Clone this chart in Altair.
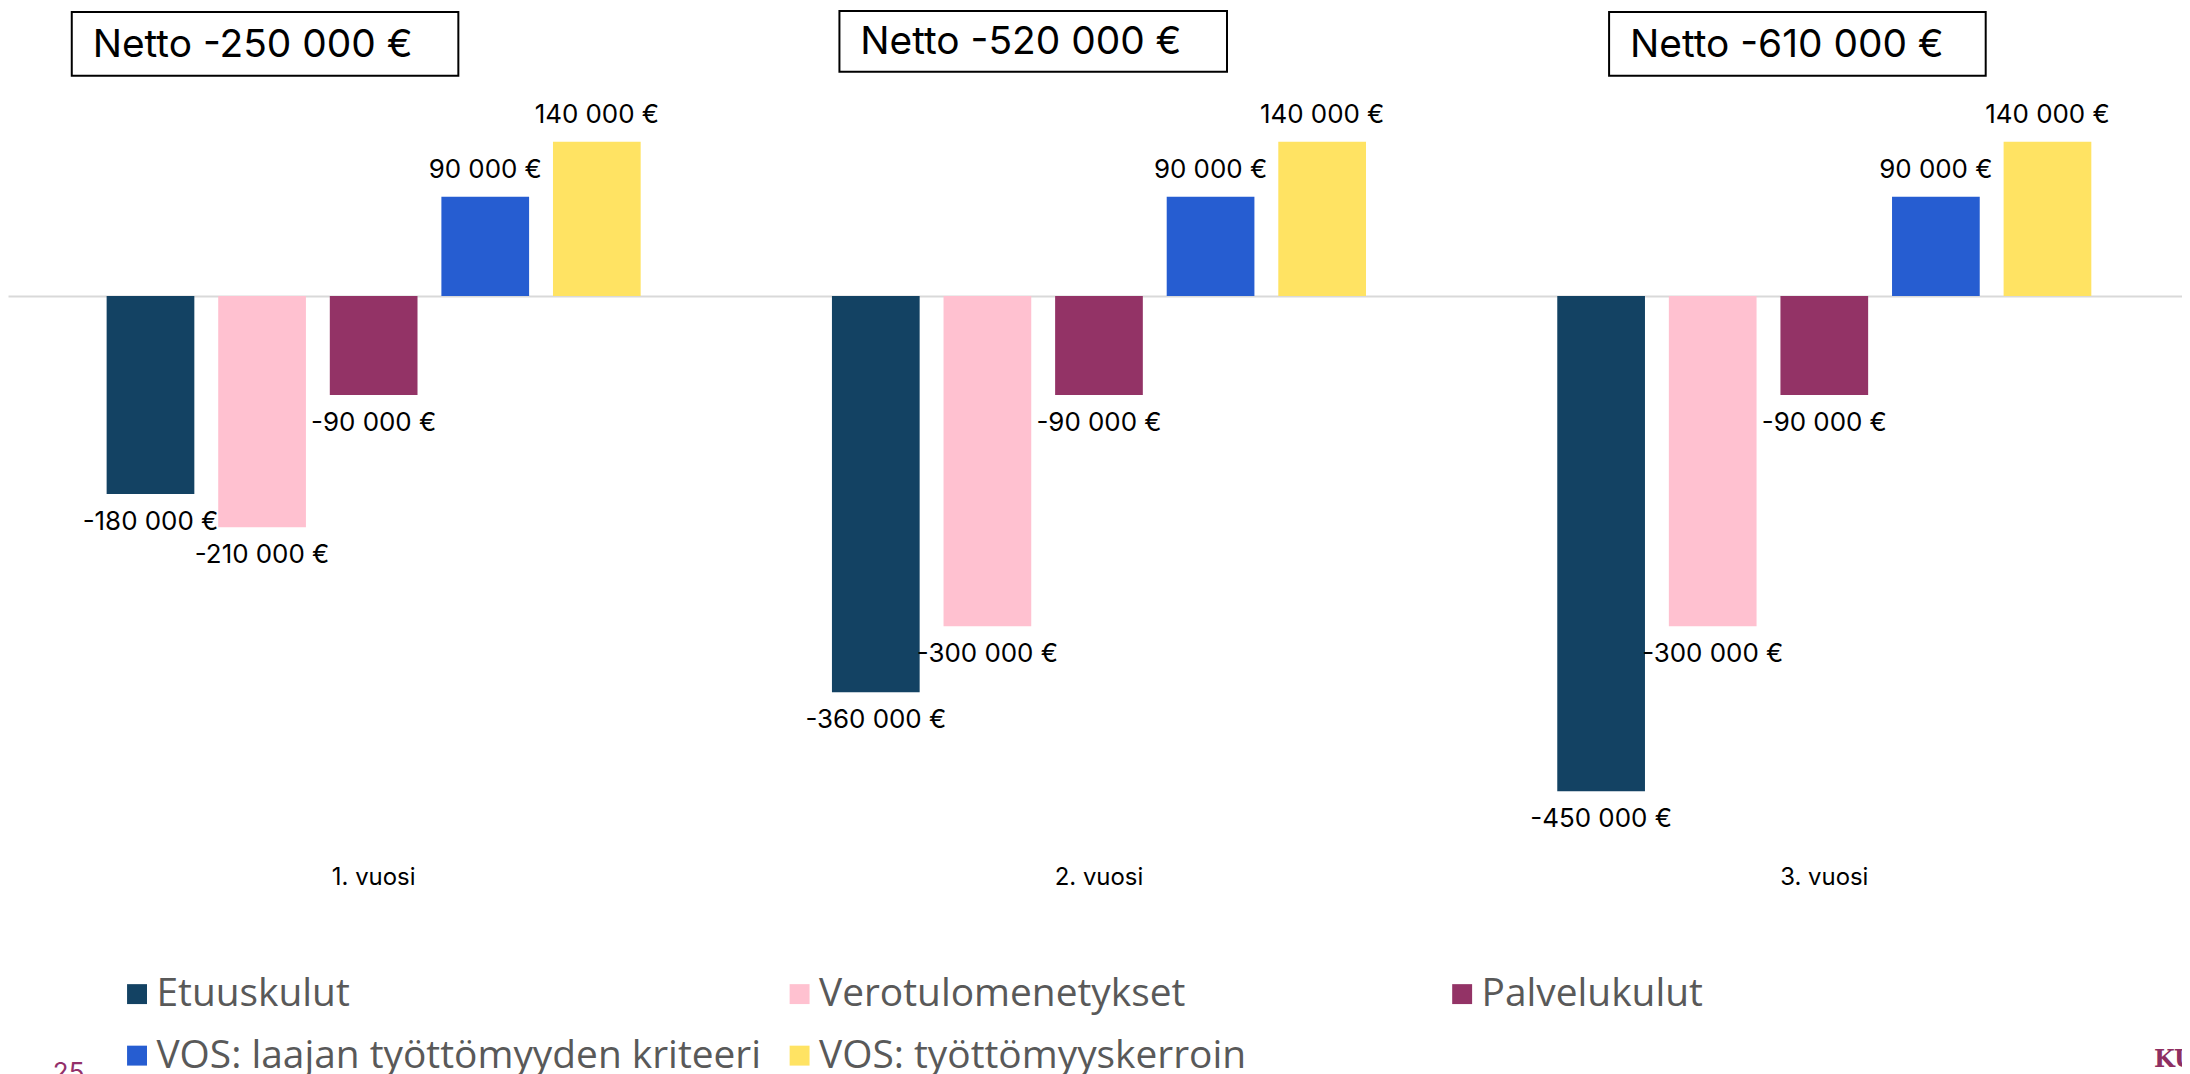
import altair as alt
import pandas as pd

# ---- data ----
years = ["1. vuosi", "2. vuosi", "3. vuosi"]
categories = [
    "Etuuskulut",
    "Verotulomenetykset",
    "Palvelukulut",
    "VOS: laajan työttömyyden kriteeri",
    "VOS: työttömyyskerroin",
]
etuuskulut = [-180000, -360000, -450000]
verotulomenetykset = [-210000, -300000, -300000]
palvelukulut = [-90000, -90000, -90000]
vos_laaja = [90000, 90000, 90000]
vos_kerroin = [140000, 140000, 140000]
netto = [-250000, -520000, -610000]

colors = ["#134263", "#FFC1D0", "#933366", "#265DD1", "#FFE363"]


def fmt(v):
    return f"{v:,}".replace(",", " ") + " €"


series = [etuuskulut, verotulomenetykset, palvelukulut, vos_laaja, vos_kerroin]
rows = []
for i, yr in enumerate(years):
    for cat, vals in zip(categories, series):
        rows.append({
            "vuosi": yr,
            "kategoria": cat,
            "arvo": vals[i],
            "teksti": fmt(vals[i]),
            "netto_teksti": "Netto " + fmt(netto[i]),
        })
df = pd.DataFrame(rows)

W, H = 2182, 850

xscale = alt.Scale(domain=years, paddingInner=0.2637, paddingOuter=0.1305, align=0.521)
xoff_scale = alt.Scale(domain=categories, paddingInner=0.214, paddingOuter=0)
yscale = alt.Scale(domain=[-509500, 259730], nice=False, zero=False)
cscale = alt.Scale(domain=categories, range=colors)

X = alt.X(
    "vuosi:N",
    scale=xscale,
    title=None,
    axis=alt.Axis(
        labelAngle=0,
        labelFont="Inter",
        labelFontSize=24,
        labelColor="#000000",
        labelPadding=9,
        ticks=False,
        tickSize=0,
        domain=False,
        grid=False,
    ),
)
XO = alt.XOffset("kategoria:N", scale=xoff_scale)
Y = alt.Y(
    "arvo:Q",
    scale=yscale,
    stack=None,
    title=None,
    axis=alt.Axis(
        values=[0],
        grid=True,
        gridColor="#d9d9d9",
        gridWidth=2,
        labels=False,
        ticks=False,
        domain=False,
        title=None,
    ),
)

base = alt.Chart(df)

bars = base.mark_bar().encode(
    x=X,
    xOffset=XO,
    y=Y,
    color=alt.Color(
        "kategoria:N",
        scale=cscale,
        legend=alt.Legend(
            title=None,
            orient="none",
            direction="horizontal",
            legendX=110,
            legendY=968,
            columns=3,
            gridAlign="all",
            symbolType="square",
            symbolSize=400,
            symbolStrokeWidth=0,
            labelFont="Open Sans",
            labelFontSize=39,
            labelColor="#595959",
            labelOffset=0,
            labelLimit=2000,
            rowPadding=22,
            columnPadding=18,
            padding=0,
        ),
    ),
)

pos_labels = base.transform_filter("datum.arvo > 0").mark_text(
    dy=-27, baseline="middle", align="center", font="Inter", fontSize=26, color="#000000"
).encode(x=X, xOffset=XO, y=Y, text="teksti:N")

neg_labels = base.transform_filter("datum.arvo < 0").mark_text(
    dy=28, baseline="middle", align="center", font="Inter", fontSize=26, color="#000000"
).encode(x=X, xOffset=XO, y=Y, text="teksti:N")

# "Netto" annotation boxes (hand-placed text boxes in the original slide):
# centre shift from each year's bar group, box width, top and bottom in px
box_styles = [(-109, 388, 2, 66), (-66, 389, 1, 62), (-27, 378, 2, 66)]
box_layers = []
for yr, (shift, bw, top, bottom) in zip(years, box_styles):
    src = base.transform_filter(
        (alt.datum.kategoria == categories[0]) & (alt.datum.vuosi == yr)
    )
    box_layers.append(
        src.mark_bar(width=bw, fill="white", stroke="black", strokeWidth=2, xOffset=shift)
        .encode(x=X, y=alt.value(top), y2=alt.value(bottom))
    )
    box_layers.append(
        src.mark_text(
            align="left", baseline="middle", dx=shift - bw / 2 + 21,
            font="Inter", fontSize=39, color="#000000",
        ).encode(x=X, y=alt.value((top + bottom) / 2 + 1), text="netto_teksti:N")
    )

# slide page number and cut-off logo at the bottom edge
first = base.transform_filter(
    (alt.datum.kategoria == categories[0]) & (alt.datum.vuosi == years[0])
)
last = base.transform_filter(
    (alt.datum.kategoria == categories[0]) & (alt.datum.vuosi == years[-1])
)
page_no = first.transform_calculate(t="'25'").mark_text(
    align="left", baseline="top", dx=-322, font="Inter", fontSize=26, color="#93306A"
).encode(x=X, y=alt.value(1054), text="t:N")
logo = last.transform_calculate(t="'KU'").mark_text(
    align="left", baseline="alphabetic", dx=331, font="DejaVu Serif", fontSize=24,
    fontWeight="bold", color="#8E2F62",
).encode(x=X, y=alt.value(1061), text="t:N")

chart = (
    alt.layer(bars, pos_labels, neg_labels, *box_layers, page_no, logo)
    .properties(
        width=W,
        height=H,
        autosize=alt.AutoSizeParams(type="none"),
        padding={"left": 0, "top": 0, "right": 0, "bottom": 230},
        background="white",
    )
    .configure_view(stroke=None)
)

chart.save("out.html", embed_options={"renderer": "svg", "actions": False})
